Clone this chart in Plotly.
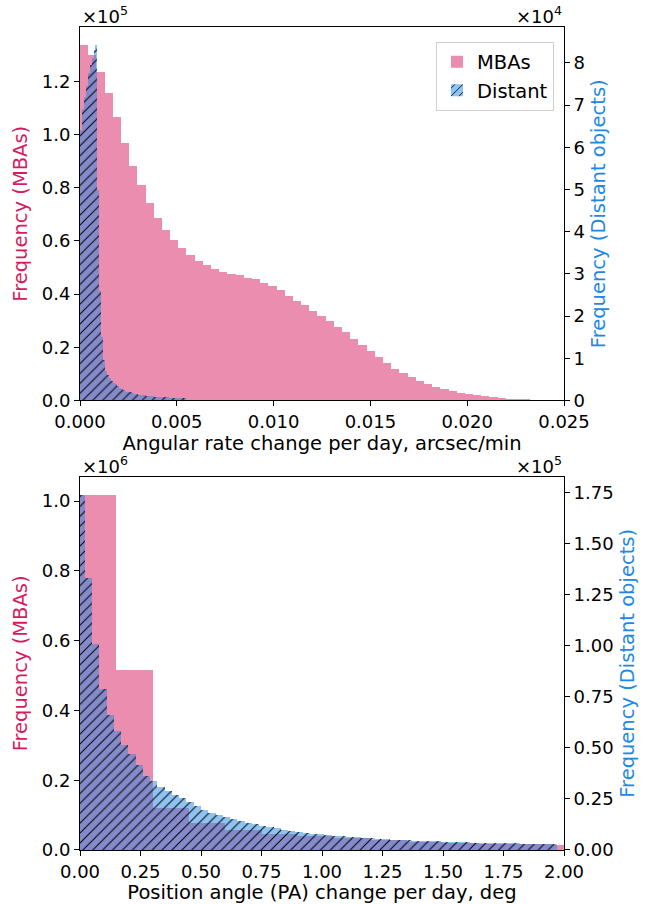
import numpy as np
import plotly.graph_objects as go

# ---- Angular rate change per day (arcsec/min) ----
RATE_MBA_BIN = 0.000423          # bin width, MBAs
RATE_DIST_BIN = 0.0001           # bin width, distant objects
rate_mba_counts = np.array([
    1.337, 1.300, 1.236, 1.155, 1.065, 0.967, 0.882, 0.811, 0.741, 0.687,
    0.639, 0.602, 0.574, 0.545, 0.525, 0.511, 0.496, 0.484, 0.476, 0.471,
    0.462, 0.455, 0.442, 0.431, 0.415, 0.393, 0.375, 0.359, 0.337, 0.317,
    0.297, 0.2775, 0.256, 0.2325, 0.209, 0.1875, 0.164, 0.1425, 0.119, 0.1025,
    0.090, 0.074, 0.061, 0.049, 0.042, 0.036, 0.028, 0.023, 0.019, 0.015,
    0.012, 0.008, 0.007, 0.005, 0.004, 0.003, 0.002,
]) * 1e5
rate_dist_counts = np.array([
    6.4, 6.9, 7.2, 7.45, 7.75, 7.95, 8.12, 8.3, 8.43, 5.0,
    2.6, 1.5, 0.95, 0.70, 0.60, 0.53, 0.47, 0.42, 0.38, 0.34,
    0.30, 0.27, 0.25, 0.23, 0.21, 0.20, 0.19, 0.175, 0.16, 0.15,
    0.14, 0.13, 0.125, 0.12, 0.11, 0.105, 0.10, 0.095, 0.09, 0.088,
    0.085, 0.082, 0.08, 0.077, 0.074, 0.071, 0.068, 0.065, 0.062, 0.06,
    0.058, 0.056, 0.054, 0.052, 0.05,
]) * 1e4

# ---- Position angle change per day (deg) ----
PA_MBA_BIN = 0.15
PA_DIST_BIN = 0.03
PA_DIST_START = -0.01
pa_mba_counts = np.array([
    1.019, 0.518, 0.121, 0.079, 0.058, 0.048, 0.040, 0.034, 0.029, 0.025,
    0.022, 0.019, 0.017, 0.016,
]) * 1e6
pa_dist_counts = np.array([
    1.742, 1.335, 1.012, 0.789, 0.662, 0.586, 0.516, 0.472, 0.418, 0.363,
    0.342, 0.31, 0.29, 0.27, 0.255, 0.235, 0.215, 0.198, 0.185, 0.172,
    0.162, 0.152, 0.143, 0.135, 0.127, 0.12, 0.113, 0.107, 0.101, 0.096,
    0.091, 0.086, 0.082, 0.078, 0.074, 0.071, 0.068, 0.065, 0.063, 0.061,
    0.059, 0.057, 0.055, 0.053, 0.050, 0.049, 0.048, 0.046, 0.045, 0.044,
    0.043, 0.041, 0.040, 0.039, 0.038, 0.037, 0.036, 0.036, 0.035, 0.034,
    0.034, 0.033, 0.033, 0.032, 0.031, 0.031,
]) * 1e5

rate_ticks = [0.000, 0.005, 0.010, 0.015, 0.020, 0.025]
rate_ticktext = ["0.000", "0.005", "0.010", "0.015", "0.020", "0.025"]
pa_ticks = [0.0, 0.25, 0.5, 0.75, 1.0, 1.25, 1.5, 1.75, 2.0]
pa_ticktext = ["0.00", "0.25", "0.50", "0.75", "1.00", "1.25", "1.50", "1.75", "2.00"]
rate_mba_yticks = [0.0, 0.2, 0.4, 0.6, 0.8, 1.0, 1.2]          # ×1e5
rate_dist_yticks = [0, 1, 2, 3, 4, 5, 6, 7, 8]                 # ×1e4
pa_mba_yticks = [0.0, 0.2, 0.4, 0.6, 0.8, 1.0]                 # ×1e6
pa_dist_yticks = [0.0, 0.25, 0.5, 0.75, 1.0, 1.25, 1.5, 1.75]  # ×1e5

MBA_FILL = "rgba(216,27,96,0.5)"
DIST_FILL = "rgba(30,136,229,0.5)"
MBA_TEXT = "#D81B60"
DIST_TEXT = "#1E88E5"
FONT = "DejaVu Sans"
FS = 18        # tick labels and offset text
FS_LABEL = 19.5  # axis titles and legend


def centers(start, width, n):
    return start + width * (np.arange(n) + 0.5)


hatch = dict(shape="/", fillmode="overlay", fgcolor="black", fgopacity=0.9,
             bgcolor=DIST_FILL, size=7, solidity=0.17)

fig = go.Figure()
fig.add_trace(go.Bar(
    x=centers(0.0, RATE_MBA_BIN, len(rate_mba_counts)), y=rate_mba_counts,
    width=RATE_MBA_BIN, name="MBAs", marker=dict(color=MBA_FILL, line=dict(width=0)),
    xaxis="x", yaxis="y"))
fig.add_trace(go.Bar(
    x=centers(0.0, RATE_DIST_BIN, len(rate_dist_counts)), y=rate_dist_counts,
    width=RATE_DIST_BIN, name="Distant",
    marker=dict(color=DIST_FILL, line=dict(width=0), pattern=hatch),
    xaxis="x", yaxis="y2"))
fig.add_trace(go.Bar(
    x=centers(0.0, PA_MBA_BIN, len(pa_mba_counts)), y=pa_mba_counts,
    width=PA_MBA_BIN, name="MBAs", showlegend=False,
    marker=dict(color=MBA_FILL, line=dict(width=0)),
    xaxis="x2", yaxis="y3"))
fig.add_trace(go.Bar(
    x=centers(PA_DIST_START, PA_DIST_BIN, len(pa_dist_counts)), y=pa_dist_counts,
    width=PA_DIST_BIN, name="Distant", showlegend=False,
    marker=dict(color=DIST_FILL, line=dict(width=0), pattern=hatch),
    xaxis="x2", yaxis="y4"))

axis_common = dict(showline=True, linecolor="black", linewidth=1, ticks="outside",
                   ticklen=5, tickwidth=1, tickcolor="black", showgrid=False,
                   zeroline=False, automargin=False,
                   tickfont=dict(family=FONT, size=FS, color="black"))


def y_ticks(vals, scale, fmt):
    return dict(tickvals=[v * scale for v in vals], ticktext=[fmt.format(v) for v in vals])


def title(text, color, standoff):
    return dict(text=text, standoff=standoff,
                font=dict(family=FONT, size=FS_LABEL, color=color))


TOP_DOM = [0.5462, 1.0]
BOT_DOM = [0.0, 0.4536]
r1 = rate_mba_counts.max() * 1.05
r2 = rate_dist_counts.max() * 1.05
r3 = pa_mba_counts.max() * 1.05
r4 = pa_dist_counts.max() * 1.05

fig.update_layout(
    width=651, height=904,
    margin=dict(l=80, r=87, t=27, b=54),
    paper_bgcolor="white", plot_bgcolor="white",
    barmode="overlay", bargap=0,
    font=dict(family=FONT, size=FS, color="black"),
    showlegend=True,
    legend=dict(x=0.9793, y=0.9822, xanchor="right", yanchor="top",
                bgcolor="rgba(255,255,255,0.8)", bordercolor="#d0d0d0", borderwidth=1,
                font=dict(family=FONT, size=FS_LABEL, color="black")),
    xaxis=dict(axis_common, domain=[0, 1], anchor="y", range=[0, 0.025], mirror=True,
               tickvals=rate_ticks, ticktext=rate_ticktext,
               title=title("Angular rate change per day, arcsec/min", "black", 3)),
    yaxis=dict(axis_common, domain=TOP_DOM, anchor="x", range=[0, r1],
               **y_ticks(rate_mba_yticks, 1e5, "{:.1f}"),
               title=title("Frequency (MBAs)", MBA_TEXT, 8)),
    yaxis2=dict(axis_common, overlaying="y", side="right", anchor="x", range=[0, r2],
                **y_ticks(rate_dist_yticks, 1e4, "{:.0f}"),
                title=title("Frequency (Distant objects)", DIST_TEXT, 7)),
    xaxis2=dict(axis_common, domain=[0, 1], anchor="y3", range=[0, 2.0], mirror=True,
                tickvals=pa_ticks, ticktext=pa_ticktext,
                title=title("Position angle (PA) change per day, deg", "black", 3)),
    yaxis3=dict(axis_common, domain=BOT_DOM, anchor="x2", range=[0, r3],
                **y_ticks(pa_mba_yticks, 1e6, "{:.1f}"),
                title=title("Frequency (MBAs)", MBA_TEXT, 8)),
    yaxis4=dict(axis_common, overlaying="y3", side="right", anchor="x2", range=[0, r4],
                **y_ticks(pa_dist_yticks, 1e5, "{:.2f}"),
                title=title("Frequency (Distant objects)", DIST_TEXT, 7)),
)


# Scale-factor labels above each axis, as matplotlib's offset text
def py(px):
    return (850 - px) / 823.0


for txt, x, anchor, ypx in [("×10<sup>5</sup>", 0.0, "left", 29),
                            ("×10<sup>4</sup>", 1.0, "right", 29),
                            ("×10<sup>6</sup>", 0.0, "left", 479),
                            ("×10<sup>5</sup>", 1.0, "right", 479)]:
    fig.add_annotation(text=txt, xref="paper", yref="paper", x=x, y=py(ypx),
                       xanchor=anchor, yanchor="bottom", showarrow=False,
                       font=dict(family=FONT, size=FS, color="black"))

fig.write_html("out.html")
